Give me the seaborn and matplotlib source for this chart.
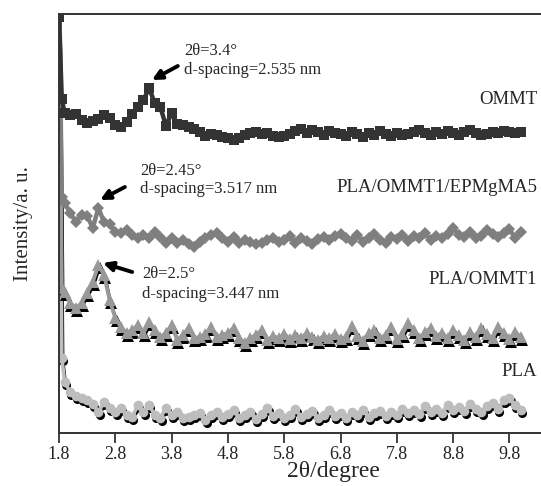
import matplotlib
matplotlib.use("Agg")
import matplotlib.pyplot as plt
import numpy as np
import pandas as pd
import seaborn as sns
from matplotlib.transforms import offset_copy

two_theta = [1.80, 1.85, 1.90, 2.0, 2.1, 2.2, 2.3, 2.4, 2.5, 2.6, 2.7, 2.8, 2.9,
             3.0, 3.1, 3.2, 3.3, 3.4, 3.5, 3.6, 3.7, 3.8, 3.9,
             4.0, 4.1, 4.2, 4.3, 4.4, 4.5, 4.6, 4.7, 4.8, 4.9,
             5.0, 5.1, 5.2, 5.3, 5.4, 5.5, 5.6, 5.7, 5.8, 5.9,
             6.0, 6.1, 6.2, 6.3, 6.4, 6.5, 6.6, 6.7, 6.8, 6.9,
             7.0, 7.1, 7.2, 7.3, 7.4, 7.5, 7.6, 7.7, 7.8, 7.9,
             8.0, 8.1, 8.2, 8.3, 8.4, 8.5, 8.6, 8.7, 8.8, 8.9,
             9.0, 9.1, 9.2, 9.3, 9.4, 9.5, 9.6, 9.7, 9.8, 9.9, 10.0]

ommt = [416, 334, 320, 318, 319, 313, 310, 312, 314, 318, 315, 308, 306,
        311, 319, 326, 333, 345, 330, 326, 307, 320, 309,
        308, 306, 304, 301, 297, 299, 298, 296, 295, 293,
        295, 298, 300, 301, 299, 300, 297, 296, 297, 299,
        302, 304, 300, 303, 301, 298, 302, 300, 299, 297,
        301, 299, 296, 300, 298, 302, 299, 297, 300, 298,
        299, 301, 303, 300, 298, 301, 299, 302, 300, 298,
        301, 303, 300, 298, 299, 301, 300, 302, 301, 300, 301]

pla_ommt1_epmgma5 = [450, 236, 230, 220, 211, 218, 217, 205, 225, 211, 209, 201, 200,
                     203, 198, 195, 198, 195, 201, 196, 190, 195, 190,
                     193, 189, 186, 191, 195, 198, 200, 195, 191, 196,
                     190, 193, 191, 189, 190, 193, 195, 191, 193, 197,
                     190, 195, 192, 189, 194, 196, 193, 197, 199, 195,
                     192, 198, 191, 195, 199, 193, 190, 196, 194, 198,
                     192, 197, 195, 200, 193, 197, 195, 199, 205, 198,
                     196, 201, 195, 197, 203, 199, 196, 200, 204, 195, 201]

pla_ommt1 = [450, 145, 141, 130, 125, 130, 140, 151, 168, 158, 133, 115, 106,
             100, 103, 108, 100, 111, 103, 96, 100, 108, 93,
             98, 105, 95, 96, 99, 106, 96, 98, 100, 105,
             95, 90, 95, 98, 103, 93, 97, 95, 99, 94,
             98, 95, 100, 96, 93, 97, 95, 99, 94, 96,
             107, 97, 92, 100, 103, 95, 98, 106, 94, 99,
             110, 103, 95, 101, 105, 97, 100, 95, 103, 98,
             93, 101, 96, 105, 99, 95, 106, 100, 94, 101, 96]

pla = [450, 75, 51, 41, 37, 35, 33, 29, 21, 31, 25, 21, 25,
       18, 16, 28, 21, 28, 18, 15, 25, 18, 21,
       15, 16, 18, 20, 13, 18, 21, 16, 19, 23,
       15, 18, 21, 14, 19, 25, 17, 20, 15, 18,
       24, 16, 19, 22, 15, 18, 23, 17, 20, 15,
       21, 18, 23, 16, 20, 22, 17, 21, 18, 24,
       20, 23, 19, 27, 21, 24, 20, 28, 23, 26,
       22, 29, 24, 21, 27, 30, 24, 33, 35, 28, 23]

series_names = ["OMMT", "PLA/OMMT1/EPMgMA5", "PLA/OMMT1", "PLA"]
x_ticks = [1.8, 2.8, 3.8, 4.8, 5.8, 6.8, 7.8, 8.8, 9.8]

df = pd.DataFrame({"two_theta": two_theta, "OMMT": ommt,
                   "PLA/OMMT1/EPMgMA5": pla_ommt1_epmgma5,
                   "PLA/OMMT1": pla_ommt1, "PLA": pla})

sns.set_style("white")
plt.rcParams["font.family"] = ["Liberation Serif", "DejaVu Serif"]

fig = plt.figure(figsize=(5.41, 4.86), dpi=100)
ax = fig.add_axes([59 / 541, 1 - 433 / 486, 482 / 541, 419 / 486])

shadow = offset_copy(ax.transData, fig=fig, x=1.2, y=-2.5, units="dots")

# PLA: shadow + light grey circles
sns.lineplot(data=df, x="two_theta", y="PLA", ax=ax, color="black", lw=2.0,
             marker="o", markersize=6.5, markeredgewidth=0, sort=False)
ax.lines[-1].set_transform(shadow)
sns.lineplot(data=df, x="two_theta", y="PLA", ax=ax, color="#bdbdbd", lw=2.6,
             marker="o", markersize=7, markeredgewidth=0, sort=False)

# PLA/OMMT1: shadow + grey triangles
sns.lineplot(data=df, x="two_theta", y="PLA/OMMT1", ax=ax, color="black", lw=2.0,
             marker="^", markersize=8, markeredgewidth=0, sort=False)
ax.lines[-1].set_transform(shadow)
sns.lineplot(data=df, x="two_theta", y="PLA/OMMT1", ax=ax, color="#999999", lw=2.8,
             marker="^", markersize=8.5, markeredgewidth=0, sort=False)

# PLA/OMMT1/EPMgMA5
sns.lineplot(data=df, x="two_theta", y="PLA/OMMT1/EPMgMA5", ax=ax, color="#7f7f7f",
             lw=3.2, marker="D", markersize=6, markeredgewidth=0, sort=False)

# OMMT
sns.lineplot(data=df, x="two_theta", y="OMMT", ax=ax, color="#333333", lw=3.2,
             marker="s", markersize=7.5, markeredgewidth=0, sort=False)

ax.set_xlim(1.8, 10.36)
ax.set_ylim(0, 419)
ax.set_xticks(x_ticks)
ax.set_xticklabels([f"{t:.1f}" for t in x_ticks])
ax.set_yticks([])
ax.tick_params(axis="x", direction="out", length=7, width=1.2, pad=2,
               labelsize=13, colors="#222222", bottom=True)
for s in ["left", "bottom", "top"]:
    ax.spines[s].set_color("#333333")
    ax.spines[s].set_linewidth(1.4)
ax.spines["right"].set_visible(False)

ax.set_xlabel("2θ/degree", fontsize=17)
ax.xaxis.set_label_coords((333 - 59) / 482, -0.068)
ax.set_ylabel("Intensity/a. u.", fontsize=15, labelpad=19)

fs_ann = 12
ax.text(4.02, 382, "2θ=3.4°", fontsize=fs_ann, va="center", ha="left")
ax.text(4.02, 363, "d-spacing=2.535 nm", fontsize=fs_ann, va="center", ha="left")
ax.text(3.24, 262, "2θ=2.45°", fontsize=fs_ann, va="center", ha="left")
ax.text(3.24, 244, "d-spacing=3.517 nm", fontsize=fs_ann, va="center", ha="left")
ax.text(3.27, 159, "2θ=2.5°", fontsize=fs_ann, va="center", ha="left")
ax.text(3.27, 139, "d-spacing=3.447 nm", fontsize=fs_ann, va="center", ha="left")

arrow = dict(arrowstyle="-|>", color="black", lw=2.8, mutation_scale=14,
             shrinkA=0, shrinkB=0)
ax.annotate("", xy=(3.45, 353), xytext=(3.91, 367), arrowprops=arrow)
ax.annotate("", xy=(2.53, 233), xytext=(2.97, 246), arrowprops=arrow)
ax.annotate("", xy=(2.58, 170), xytext=(3.10, 161), arrowprops=arrow)

fs_lab = 13.5
ax.text(10.29, 333, "OMMT", fontsize=fs_lab, ha="right", va="center")
ax.text(10.29, 245, "PLA/OMMT1/EPMgMA5", fontsize=fs_lab, ha="right", va="center")
ax.text(10.29, 154, "PLA/OMMT1", fontsize=fs_lab, ha="right", va="center")
ax.text(10.29, 62, "PLA", fontsize=fs_lab, ha="right", va="center")

fig.savefig("out.png", dpi=100)
